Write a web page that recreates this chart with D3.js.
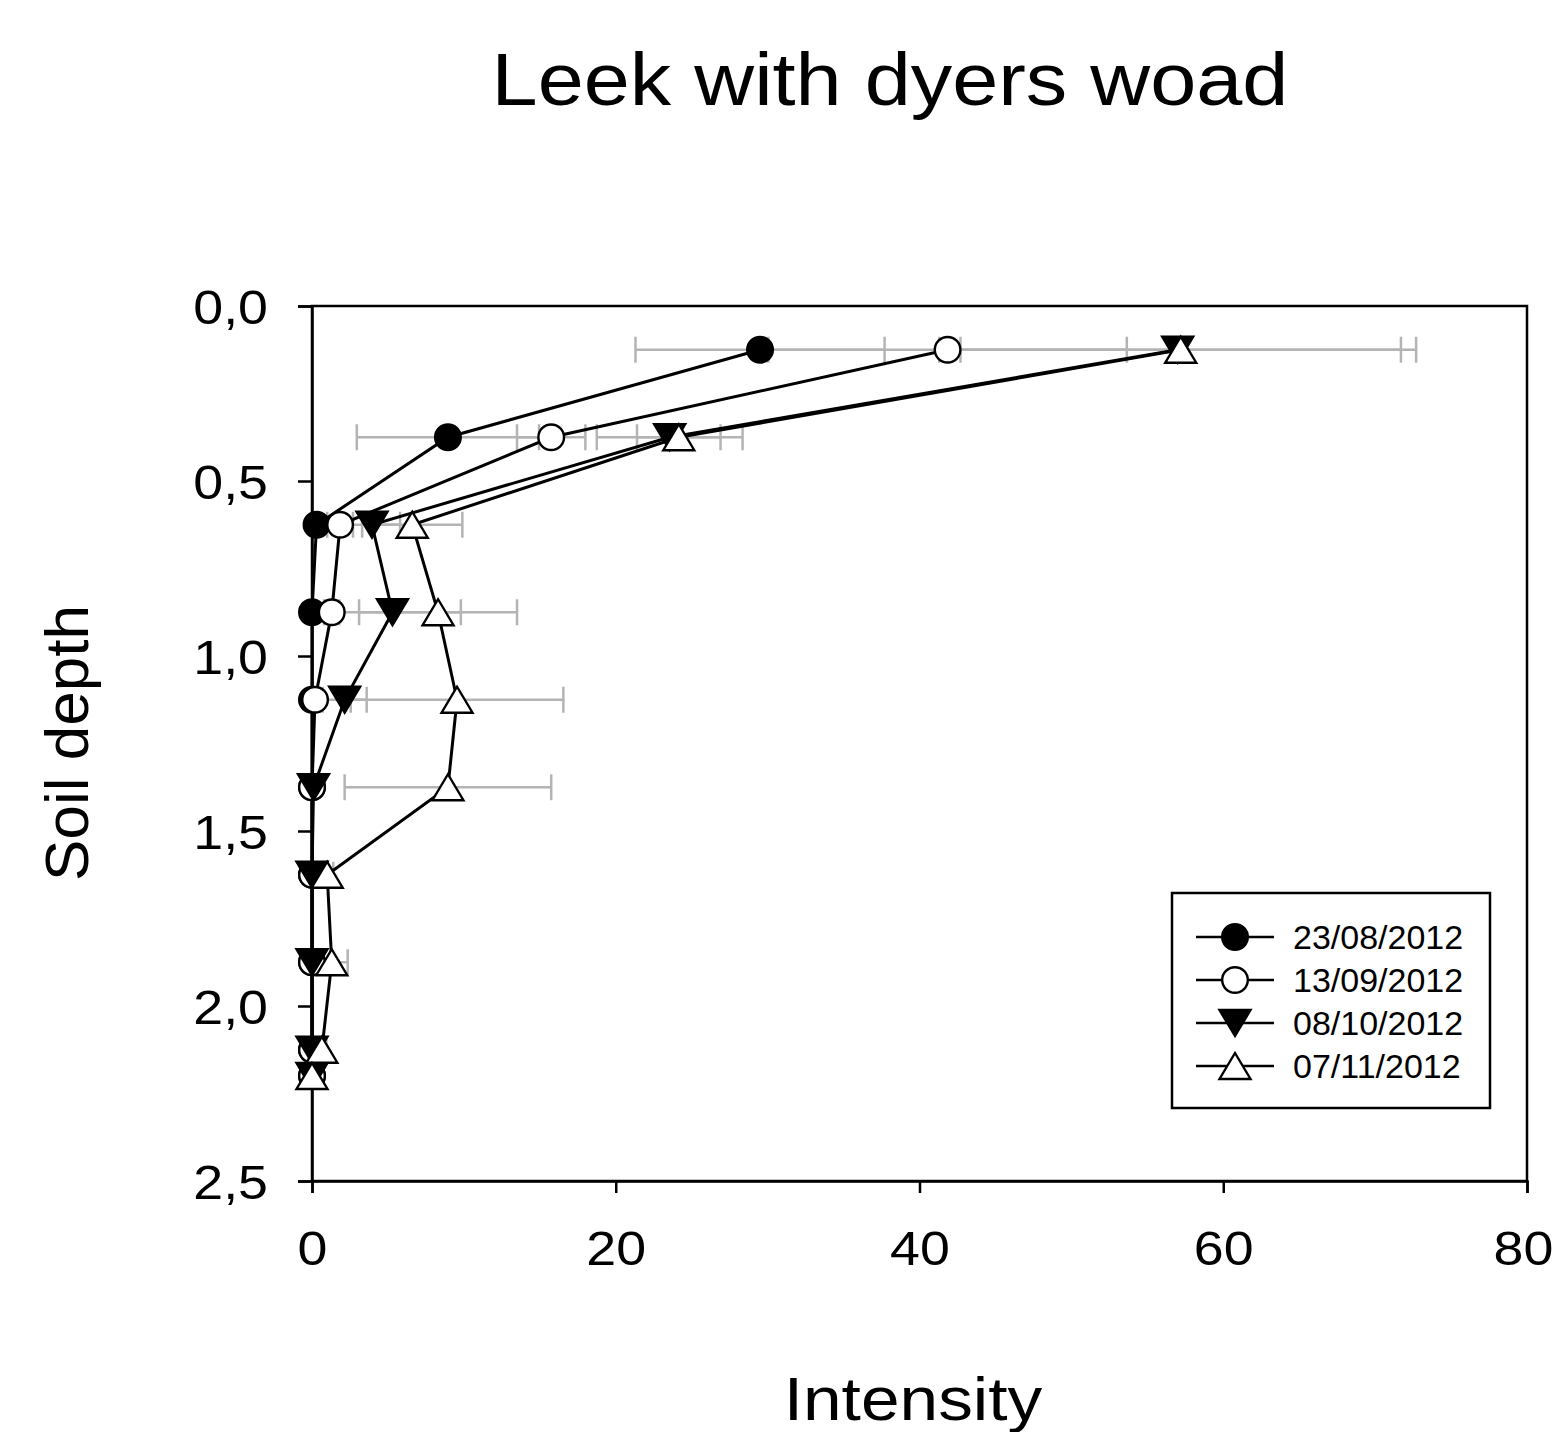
<!DOCTYPE html>
<html>
<head>
<meta charset="utf-8">
<script src="https://cdn.jsdelivr.net/npm/d3@7"></script>
<style>
  html, body { margin: 0; padding: 0; background: #fff; }
  svg { display: block; }
  text { font-family: Arial, "Liberation Sans", sans-serif; fill: #000; }
</style>
</head>
<body>
<script>
// ---- Data ----
const depths = [0.125, 0.375, 0.625, 0.875, 1.125, 1.375, 1.625, 1.875, 2.125, 2.2];
const seriesNames = ["23/08/2012", "13/09/2012", "08/10/2012", "07/11/2012"];
const s1Values = [29.5, 8.95, 0.3, 0, 0, 0, 0, 0, 0, 0];
const s1Err    = [8.2, 6.0, 0.2, 0.1, 0, 0, 0, 0, 0, 0];
const s2Values = [41.85, 15.75, 1.85, 1.3, 0.2, 0, 0, 0, 0, 0];
const s2Err    = [11.8, 2.25, 0.85, 0.5, 0.1, 0, 0, 0, 0, 0];
const s3Values = [57.0, 23.55, 3.95, 5.3, 2.15, 0.1, 0, 0, 0, 0];
const s3Err    = [15.7, 4.8, 1.85, 4.5, 1.45, 0.1, 0, 0, 0, 0];
const s4Values = [57.2, 24.15, 6.6, 8.3, 9.55, 8.95, 1.0, 1.3, 0.65, 0];
const s4Err    = [14.5, 2.75, 3.3, 5.2, 7.0, 6.8, 0.4, 1.05, 0.3, 0];
const xTicks = [0, 20, 40, 60, 80];
const yTicks = [0, 0.5, 1.0, 1.5, 2.0, 2.5];
const markerTypes = ["circleFilled", "circleOpen", "triDownFilled", "triUpOpen"];

const series = [s1Values, s2Values, s3Values, s4Values].map((vals, i) => ({
  name: seriesNames[i],
  marker: markerTypes[i],
  points: vals.map((v, j) => ({ x: v, y: depths[j], e: [s1Err, s2Err, s3Err, s4Err][i][j] }))
}));

// ---- Layout ----
const W = 1554, H = 1432;
const plot = { left: 312, right: 1527, top: 306, bottom: 1181 };
const stretch = 1.12; // horizontal stretch of the original text rendering

const svg = d3.select("body").append("svg").attr("width", W).attr("height", H);

const x = d3.scaleLinear().domain([0, 80]).range([plot.left, plot.right]);
const y = d3.scaleLinear().domain([0, 2.5]).range([plot.top, plot.bottom]);

// Frame
svg.append("rect")
  .attr("x", plot.left).attr("y", plot.top)
  .attr("width", plot.right - plot.left).attr("height", plot.bottom - plot.top)
  .attr("fill", "none").attr("stroke", "#000").attr("stroke-width", 2.5);

// Axes
const fmtY = d => d3.format(".1f")(d).replace(".", ",");
const yAxis = svg.append("g").attr("transform", `translate(${plot.left},0)`)
  .call(d3.axisLeft(y).tickValues(yTicks).tickFormat(fmtY).tickSize(14).tickPadding(28));
const xAxis = svg.append("g").attr("transform", `translate(0,${plot.bottom})`)
  .call(d3.axisBottom(x).tickValues(xTicks).tickFormat(d3.format("d")).tickSize(12).tickPadding(38));
[yAxis, xAxis].forEach(g => {
  g.select(".domain").attr("stroke", "#000").attr("stroke-width", 2.5);
  g.selectAll(".tick line").attr("stroke", "#000").attr("stroke-width", 2.5);
  g.selectAll(".tick text").attr("font-size", 48).attr("font-family", "Arial, 'Liberation Sans', sans-serif").attr("fill", "#000");
});
yAxis.selectAll(".tick text").attr("dy", "0.36em")
  .attr("x", 0).attr("transform", `translate(-44,0) scale(${stretch},1)`);
xAxis.selectAll(".tick text").attr("transform", (d, i, n) =>
  (i === n.length - 1 ? "translate(-4,0) " : "") + `scale(${stretch},1)`);

// Titles
svg.append("text").attr("transform", `translate(890,105) scale(${stretch},1)`).attr("text-anchor", "middle")
  .attr("font-size", 74).text("Leek with dyers woad");
svg.append("text").attr("transform", `translate(913,1420) scale(${stretch},1)`).attr("text-anchor", "middle")
  .attr("font-size", 62).text("Intensity");
svg.append("text").attr("transform", "translate(88,743) rotate(-90)").attr("text-anchor", "middle")
  .attr("font-size", 62).text("Soil depth");

// Error bars (drawn first, grey)
const capH = 13;
const eb = svg.append("g").attr("stroke", "#b4b4b4").attr("stroke-width", 2.5).attr("fill", "none");
series.forEach(s => {
  s.points.filter(p => p.e > 0.25).forEach(p => {
    const cy = y(p.y), x0 = x(p.x - p.e), x1 = x(p.x + p.e);
    eb.append("line").attr("x1", x0).attr("x2", x1).attr("y1", cy).attr("y2", cy);
    eb.append("line").attr("x1", x0).attr("x2", x0).attr("y1", cy - capH).attr("y2", cy + capH);
    eb.append("line").attr("x1", x1).attr("x2", x1).attr("y1", cy - capH).attr("y2", cy + capH);
  });
});

// Marker drawing
function drawMarker(g, type, cx, cy) {
  const r = 12.8;
  if (type === "circleFilled" || type === "circleOpen") {
    g.append("circle").attr("cx", cx).attr("cy", cy).attr("r", r)
      .attr("fill", type === "circleFilled" ? "#000" : "#fff")
      .attr("stroke", "#000").attr("stroke-width", 2.4);
  } else {
    const hw = 15.5, hh = 13;
    const pts = type === "triDownFilled"
      ? [[cx - hw, cy - hh], [cx + hw, cy - hh], [cx, cy + hh]]
      : [[cx - hw, cy + hh], [cx + hw, cy + hh], [cx, cy - hh]];
    g.append("polygon").attr("points", pts.map(p => p.join(",")).join(" "))
      .attr("fill", type === "triDownFilled" ? "#000" : "#fff")
      .attr("stroke", "#000").attr("stroke-width", 2.4).attr("stroke-linejoin", "miter");
  }
}

const line = d3.line().x(p => x(p.x)).y(p => y(p.y));
series.forEach(s => {
  const g = svg.append("g");
  g.append("path").attr("d", line(s.points)).attr("fill", "none")
    .attr("stroke", "#000").attr("stroke-width", 3);
  s.points.forEach(p => drawMarker(g, s.marker, x(p.x), y(p.y)));
});

// Legend
const lg = svg.append("g");
lg.append("rect").attr("x", 1172).attr("y", 893).attr("width", 318).attr("height", 215)
  .attr("fill", "#fff").attr("stroke", "#000").attr("stroke-width", 2.5);
series.forEach((s, i) => {
  const cy = 937 + i * 43;
  lg.append("line").attr("x1", 1196).attr("x2", 1274).attr("y1", cy).attr("y2", cy)
    .attr("stroke", "#000").attr("stroke-width", 2.5);
  drawMarker(lg, s.marker, 1235, cy);
  lg.append("text").attr("x", 1293).attr("y", cy).attr("dy", "0.36em")
    .attr("font-size", 34).text(s.name);
});
</script>
</body>
</html>
